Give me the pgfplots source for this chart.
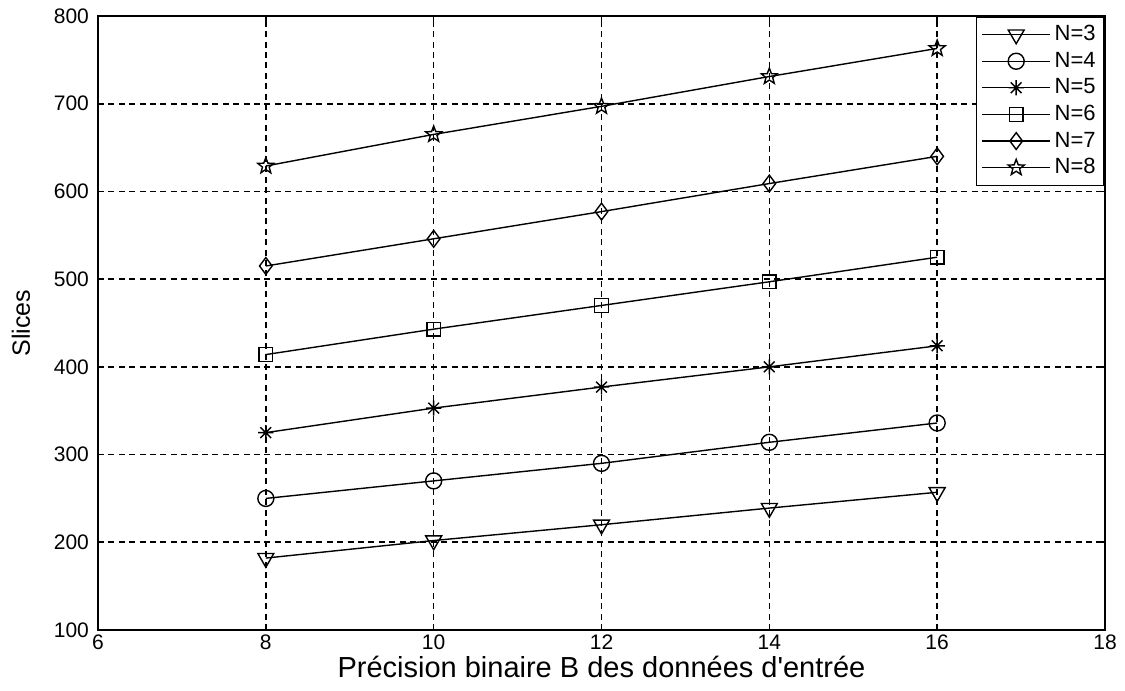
\documentclass[border=0pt]{standalone}
\usepackage{fontspec}
\setmainfont{Liberation Sans}
\usepackage{pgfplots}
\pgfplotsset{compat=1.18}
\usetikzlibrary{plotmarks}

% open five-pointed star outline
\pgfdeclareplotmark{pentagram}{%
  \pgfpathmoveto{\pgfpointpolar{90}{\pgfplotmarksize}}%
  \pgfpathlineto{\pgfpointpolar{126}{0.42\pgfplotmarksize}}%
  \pgfpathlineto{\pgfpointpolar{162}{\pgfplotmarksize}}%
  \pgfpathlineto{\pgfpointpolar{198}{0.42\pgfplotmarksize}}%
  \pgfpathlineto{\pgfpointpolar{234}{\pgfplotmarksize}}%
  \pgfpathlineto{\pgfpointpolar{270}{0.42\pgfplotmarksize}}%
  \pgfpathlineto{\pgfpointpolar{306}{\pgfplotmarksize}}%
  \pgfpathlineto{\pgfpointpolar{342}{0.42\pgfplotmarksize}}%
  \pgfpathlineto{\pgfpointpolar{18}{\pgfplotmarksize}}%
  \pgfpathlineto{\pgfpointpolar{54}{0.42\pgfplotmarksize}}%
  \pgfpathclose
  \pgfusepathqstroke}
% eight-spoke asterisk (plus and cross combined)
\pgfdeclareplotmark{asterisk8}{%
  \pgfpathmoveto{\pgfqpoint{-\pgfplotmarksize}{0pt}}%
  \pgfpathlineto{\pgfqpoint{\pgfplotmarksize}{0pt}}%
  \pgfpathmoveto{\pgfqpoint{0pt}{-\pgfplotmarksize}}%
  \pgfpathlineto{\pgfqpoint{0pt}{\pgfplotmarksize}}%
  \pgfpathmoveto{\pgfpointpolar{45}{\pgfplotmarksize}}%
  \pgfpathlineto{\pgfpointpolar{225}{\pgfplotmarksize}}%
  \pgfpathmoveto{\pgfpointpolar{135}{\pgfplotmarksize}}%
  \pgfpathlineto{\pgfpointpolar{315}{\pgfplotmarksize}}%
  \pgfusepathqstroke}

\begin{document}
\begin{tikzpicture}
\begin{axis}[
  name=ax,
  scale only axis,
  width=503.5pt, height=307pt,
  xmin=6, xmax=18, ymin=100, ymax=800,
  xtick={6,8,...,18}, ytick={100,200,...,800},
  grid=major,
  major grid style={black, line width=0.8pt, dash pattern=on 3pt off 2.2pt},
  axis line style={black, line width=1pt},
  tick style={black, line width=0.8pt},
  major tick length=3pt,
  tick align=inside,
  /pgf/number format/assume math mode=true,
  ticklabel style={font=\fontsize{10.5}{12}\selectfont},
  xticklabel style={yshift=1pt},
  yticklabel style={xshift=-1pt},
  xlabel={Précision binaire B des données d\textquotesingle entrée},
  ylabel={Slices},
  xlabel style={font=\fontsize{14.5}{16}\selectfont, yshift=4pt},
  ylabel style={font=\fontsize{12.5}{14}\selectfont, yshift=5pt},
  every axis plot/.append style={black, line width=0.7pt, mark options={solid, line width=0.7pt}},
  legend style={at={(1,1)}, anchor=north east, draw=black, line width=0.8pt,
    font=\fontsize{11}{12}\selectfont, inner sep=2.5pt,
    nodes={inner sep=1.8pt}, row sep=0.6pt},
  legend cell align=left,
  legend image code/.code={%
    \draw[mark repeat=2, mark phase=2] plot coordinates {(0cm,0cm) (0.6cm,0cm) (1.2cm,0cm)};},
]
\addplot[mark=triangle, mark size=4.6pt, mark options={rotate=180}] coordinates {
  (8,182) (10,202) (12,220) (14,239) (16,257)};
\addlegendentry{N=3}
\addplot[mark=o, mark size=4pt] coordinates {
  (8,250) (10,270) (12,290) (14,314) (16,336)};
\addlegendentry{N=4}
\addplot[mark=asterisk8, mark size=3.8pt] coordinates {
  (8,325) (10,353) (12,377) (14,400) (16,424)};
\addlegendentry{N=5}
\addplot[mark=square, mark size=3.4pt] coordinates {
  (8,414) (10,443) (12,470) (14,497) (16,525)};
\addlegendentry{N=6}
\addplot[mark=diamond, mark size=4.2pt] coordinates {
  (8,515) (10,546) (12,577) (14,609) (16,640)};
\addlegendentry{N=7}
\addplot[mark=pentagram, mark size=4.2pt] coordinates {
  (8,629) (10,665) (12,697) (14,731) (16,763)};
\addlegendentry{N=8}
\end{axis}
\pgfresetboundingbox
\path (ax.south west) ++(-49pt,-30.5pt) coordinate (bl);
\path (ax.north east) ++(10pt,8pt) coordinate (tr);
\path[use as bounding box] (bl) rectangle (tr);
\end{tikzpicture}
\end{document}
